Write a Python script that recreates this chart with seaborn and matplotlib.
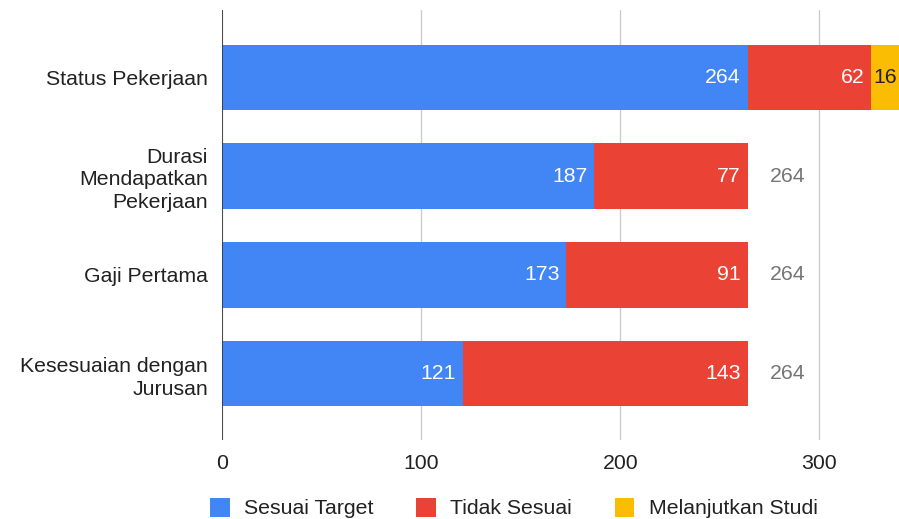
import matplotlib
matplotlib.use("Agg")
import matplotlib.pyplot as plt
import seaborn as sns
import pandas as pd
import numpy as np
from matplotlib.patches import Patch

categories = ["Status Pekerjaan", "Durasi\nMendapatkan\nPekerjaan", "Gaji Pertama", "Kesesuaian dengan\nJurusan"]
sesuai_target = [264, 187, 173, 121]
tidak_sesuai = [62, 77, 91, 143]
melanjutkan_studi = [16, 0, 0, 0]
totals_shown = [None, 264, 264, 264]
series_names = ["Sesuai Target", "Tidak Sesuai", "Melanjutkan Studi"]
colors = ["#4285F4", "#EA4335", "#FBBC04"]
xticks = [0, 100, 200, 300]

sns.set_theme(style="white")
plt.rcParams['font.family'] = ['Liberation Sans', 'DejaVu Sans']
FS = 15.3

fig = plt.figure(figsize=(8.99, 5.19), dpi=100)
ax = fig.add_axes([222/899, 1-440/519, 1-222/899, 430/519])

df = pd.DataFrame({"cat": categories, "s1": sesuai_target, "s2": tidak_sesuai, "s3": melanjutkan_studi})
df["c2"] = df["s1"] + df["s2"]
df["c3"] = df["c2"] + df["s3"]

sns.barplot(data=df, y="cat", x="c3", color=colors[2], orient="h", width=0.66, ax=ax, saturation=1, linewidth=0)
sns.barplot(data=df, y="cat", x="c2", color=colors[1], orient="h", width=0.66, ax=ax, saturation=1, linewidth=0)
sns.barplot(data=df, y="cat", x="s1", color=colors[0], orient="h", width=0.66, ax=ax, saturation=1, linewidth=0)

ax.set_xlim(0, 340)
ax.set_ylim(3.67, -0.68)
ax.set_xticks(xticks)
ax.set_xticklabels([str(t) for t in xticks])
ax.grid(axis="x", color="#cccccc", linewidth=1)
ax.set_axisbelow(True)
for s in ax.spines.values():
    s.set_visible(False)
ax.axvline(0, color="#333333", linewidth=1.2, zorder=5)
ax.set_xlabel("")
ax.set_ylabel("")
ax.tick_params(axis="both", length=0, labelsize=FS, colors="#222222")
ax.tick_params(axis="x", pad=10)
ax.tick_params(axis="y", pad=10)
for lbl in ax.get_yticklabels():
    lbl.set_horizontalalignment("right")
    lbl.set_multialignment("right")
    lbl.set_linespacing(1.25)

pad = 3.5
for i in range(len(categories)):
    s1, s2, s3 = sesuai_target[i], tidak_sesuai[i], melanjutkan_studi[i]
    ax.text(s1 - pad, i, str(s1), ha="right", va="center", color="white", fontsize=FS)
    if s2:
        ax.text(s1 + s2 - pad, i, str(s2), ha="right", va="center", color="white", fontsize=FS)
    if s3:
        ax.text(s1 + s2 + 1, i, str(s3), ha="left", va="center", color="#222222", fontsize=FS, clip_on=True)
    if totals_shown[i] is not None:
        ax.text(s1 + s2 + s3 + 11, i, str(totals_shown[i]), ha="left", va="center", color="#757575", fontsize=FS)

handles = [Patch(facecolor=c, edgecolor="none") for c in colors]
fig.legend(handles, series_names, loc="center", bbox_to_anchor=(514/899, 1-508/519), ncol=3,
           frameon=False, fontsize=FS, handlelength=0.9, handleheight=1.0, handletextpad=0.7,
           columnspacing=2.0, labelcolor="#222222")

fig.savefig("out.png", dpi=100)
